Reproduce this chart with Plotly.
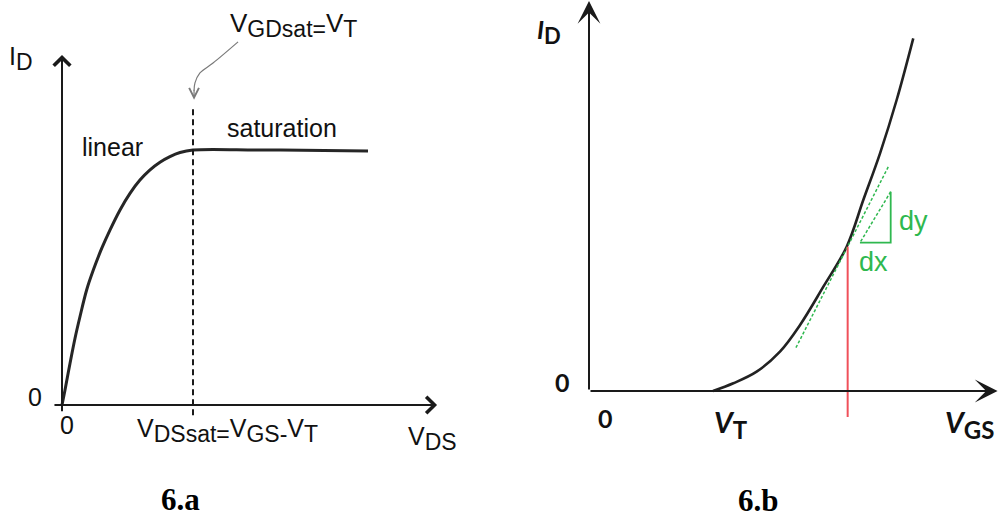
import plotly.graph_objects as go

# ---------------- data ----------------
# Panel 6.a : output characteristic, V_DS normalised to V_DSsat, I_D normalised to I_Dsat
vds_a = [0.0, 0.023, 0.061, 0.099, 0.137, 0.188, 0.239, 0.303, 0.366, 0.443, 0.519, 0.595,
         0.672, 0.748, 0.824, 0.901, 1.0, 1.5, 2.0, 2.336]
id_a = [0.0, 0.059, 0.163, 0.261, 0.346, 0.451, 0.529, 0.614, 0.686, 0.765, 0.830, 0.882,
        0.922, 0.952, 0.974, 0.990, 1.0, 1.0, 0.998, 0.996]
vdssat_a = 1.0
callout_x = [1.344, 1.153, 1.053, 1.015, 1.008]
callout_y = [1.424, 1.341, 1.302, 1.263, 1.232]

# Panel 6.b : transfer characteristic (V_GS in units of V_T)
vgs_b = [1.0, 1.164, 1.352, 1.540, 1.702, 1.890, 2.078, 2.212, 2.347, 2.481, 2.615]
id_b = [0.0, 0.077, 0.193, 0.393, 0.660, 1.043, 1.443, 1.910, 2.377, 2.910, 3.527]
tangent_x = [1.669, 2.414]
tangent_y = [0.433, 2.243]
tri_x = [2.185, 2.433, 2.433]
tri_y = [1.483, 1.483, 1.993]
vop_b = 2.086
id_op_b = 1.443

BLACK = "#1a1a1a"
GREEN = "#2fb84f"
RED = "#f0505a"
GRAY = "#7a7a7a"

fig = go.Figure()

# ---------- panel a ----------
fig.add_trace(go.Scatter(x=vds_a, y=id_a, mode="lines", xaxis="x", yaxis="y",
                         line=dict(color="#262626", width=3, shape="spline", smoothing=1.0),
                         hoverinfo="skip"))
fig.add_trace(go.Scatter(x=[vdssat_a, vdssat_a], y=[-0.04, 1.17], mode="lines", xaxis="x", yaxis="y",
                         line=dict(color=BLACK, width=2, dash="6px,4px"), hoverinfo="skip"))
fig.add_trace(go.Scatter(x=callout_x, y=callout_y, mode="lines", xaxis="x", yaxis="y",
                         line=dict(color=GRAY, width=1.2, shape="spline"), hoverinfo="skip"))

# ---------- panel b ----------
fig.add_trace(go.Scatter(x=vgs_b, y=id_b, mode="lines", xaxis="x2", yaxis="y2",
                         line=dict(color="#222222", width=2.6, shape="spline", smoothing=1.0),
                         hoverinfo="skip"))
fig.add_trace(go.Scatter(x=tangent_x, y=tangent_y, mode="lines", xaxis="x2", yaxis="y2",
                         line=dict(color=GREEN, width=1.5, dash="3px,2px"), hoverinfo="skip"))
fig.add_trace(go.Scatter(x=[tri_x[0], tri_x[1], tri_x[2]], y=[tri_y[0], tri_y[1], tri_y[2]],
                         mode="lines", xaxis="x2", yaxis="y2",
                         line=dict(color=GREEN, width=1.8), hoverinfo="skip"))
fig.add_trace(go.Scatter(x=[tri_x[2], tri_x[0]], y=[tri_y[2], tri_y[0]],
                         mode="lines", xaxis="x2", yaxis="y2",
                         line=dict(color=GREEN, width=1.5, dash="3px,2px"), hoverinfo="skip"))
fig.add_trace(go.Scatter(x=[vop_b, vop_b], y=[id_op_b, -0.26], mode="lines", xaxis="x2", yaxis="y2",
                         line=dict(color=RED, width=2), hoverinfo="skip"))

ann = []
# axis arrows panel a
ann.append(dict(x=0, y=1.373, ax=0, ay=-0.03, xref="x", yref="y", axref="x", ayref="y",
                text="", showarrow=True, arrowhead=4, arrowwidth=2, arrowsize=1.6, arrowcolor=BLACK))
ann.append(dict(x=2.863, y=0, ax=-0.069, ay=0, xref="x", yref="y", axref="x", ayref="y",
                text="", showarrow=True, arrowhead=4, arrowwidth=2, arrowsize=1.6, arrowcolor=BLACK))
# callout arrow head
ann.append(dict(x=callout_x[-1], y=callout_y[-1] - 0.035, ax=callout_x[-1], ay=callout_y[-1] + 0.01,
                xref="x", yref="y", axref="x", ayref="y",
                text="", showarrow=True, arrowhead=5, arrowwidth=1.2, arrowsize=1.6, arrowcolor=GRAY))
# axis arrows panel b
ann.append(dict(x=0, y=3.9, ax=0, ay=0, xref="x2", yref="y2", axref="x2", ayref="y2",
                text="", showarrow=True, arrowhead=3, arrowwidth=2, arrowsize=1.9, arrowcolor=BLACK))
ann.append(dict(x=3.295, y=0, ax=0, ay=0, xref="x2", yref="y2", axref="x2", ayref="y2",
                text="", showarrow=True, arrowhead=3, arrowwidth=2, arrowsize=1.9, arrowcolor=BLACK))

FA = dict(family="Liberation Sans, Arial, sans-serif", size=25, color="#111111")
SUB = '<span style="font-size:23px">%s</span>'


def ta(text, x, y, xa="center", font=None, ref="1"):
    xr = "x" if ref == "1" else "x2"
    yr = "y" if ref == "1" else "y2"
    return dict(text=text, x=x, y=y, xref=xr, yref=yr, showarrow=False,
                xanchor=xa, yanchor="middle", font=font or FA)


ann.append(ta("I<sub>" + SUB % "D" + "</sub>", -0.313, 1.36))
ann.append(ta("linear", 0.389, 1.01))
ann.append(ta("saturation", 1.679, 1.088))
ann.append(ta("V<sub>" + SUB % "GDsat=" + "</sub>V<sub>" + SUB % "T" + "</sub>", 1.267, 1.49, xa="left",
              font=dict(family=FA["family"], size=26, color="#111111")))
ann.append(ta("0", -0.206, 0.031))
ann.append(ta("0", 0.038, -0.08))
ann.append(ta("V<sub>" + SUB % "DSsat=" + "</sub>V<sub>" + SUB % "GS-" + "</sub>V<sub>" + SUB % "T" + "</sub>",
              0.557, -0.1, xa="left"))
ann.append(ta("V<sub>" + SUB % "DS" + "</sub>", 2.626, -0.13, xa="left"))
ann.append(ta("<b>6.a</b>", 0.908, -0.37,
              font=dict(family="Liberation Serif, Times New Roman, serif", size=31, color="#000000")))

FB = dict(family="Lato, Open Sans, sans-serif", size=25, color="#111111")
ann.append(ta("<b><i>I</i></b><sub><b>" + '<span style="font-size:22px">D</span>' + "</b></sub>", -0.435, 3.6,
              xa="left", font=FB, ref="2"))
ann.append(ta("<b>0</b>", -0.21, 0.09, font=FB, ref="2"))
ann.append(ta("<b>0</b>", 0.137, -0.27, font=FB, ref="2"))
ann.append(ta("<b><i>V</i></b><sub><b>" + '<span style="font-size:24px">T</span>' + "</b></sub>", 0.992, -0.33,
              xa="left", font=dict(family=FB["family"], size=29, color="#111111"), ref="2"))
ann.append(ta("<b><i>V</i></b><sub><b>" + '<span style="font-size:24px">GS</span>' + "</b></sub>", 2.855, -0.33,
              xa="left", font=dict(family=FB["family"], size=29, color="#111111"), ref="2"))
ann.append(ta("dy", 2.484, 1.70, xa="left",
              font=dict(family="Liberation Sans, Arial, sans-serif", size=27, color=GREEN), ref="2"))
ann.append(ta("dx", 2.161, 1.29, xa="left",
              font=dict(family="Liberation Sans, Arial, sans-serif", size=27, color=GREEN), ref="2"))
ann.append(ta("<b>6.b</b>", 1.363, -1.09,
              font=dict(family="Liberation Serif, Times New Roman, serif", size=31, color="#000000"), ref="2"))

ax_common = dict(visible=False, showgrid=False, zeroline=False, fixedrange=True)
fig.update_layout(
    width=998, height=517,
    margin=dict(l=0, r=0, t=0, b=0),
    paper_bgcolor="white", plot_bgcolor="white",
    showlegend=False,
    xaxis=dict(domain=[0, 0.5], range=[-0.4733, 3.3359], **ax_common),
    yaxis=dict(domain=[0, 1], range=[-0.4392, 1.5882], **ax_common),
    xaxis2=dict(domain=[0.5, 1], range=[-0.7258, 3.2984], anchor="y2", **ax_common),
    yaxis2=dict(domain=[0, 1], range=[-1.26, 3.91], anchor="x2", **ax_common),
    annotations=ann,
)

fig.write_html("out.html")
